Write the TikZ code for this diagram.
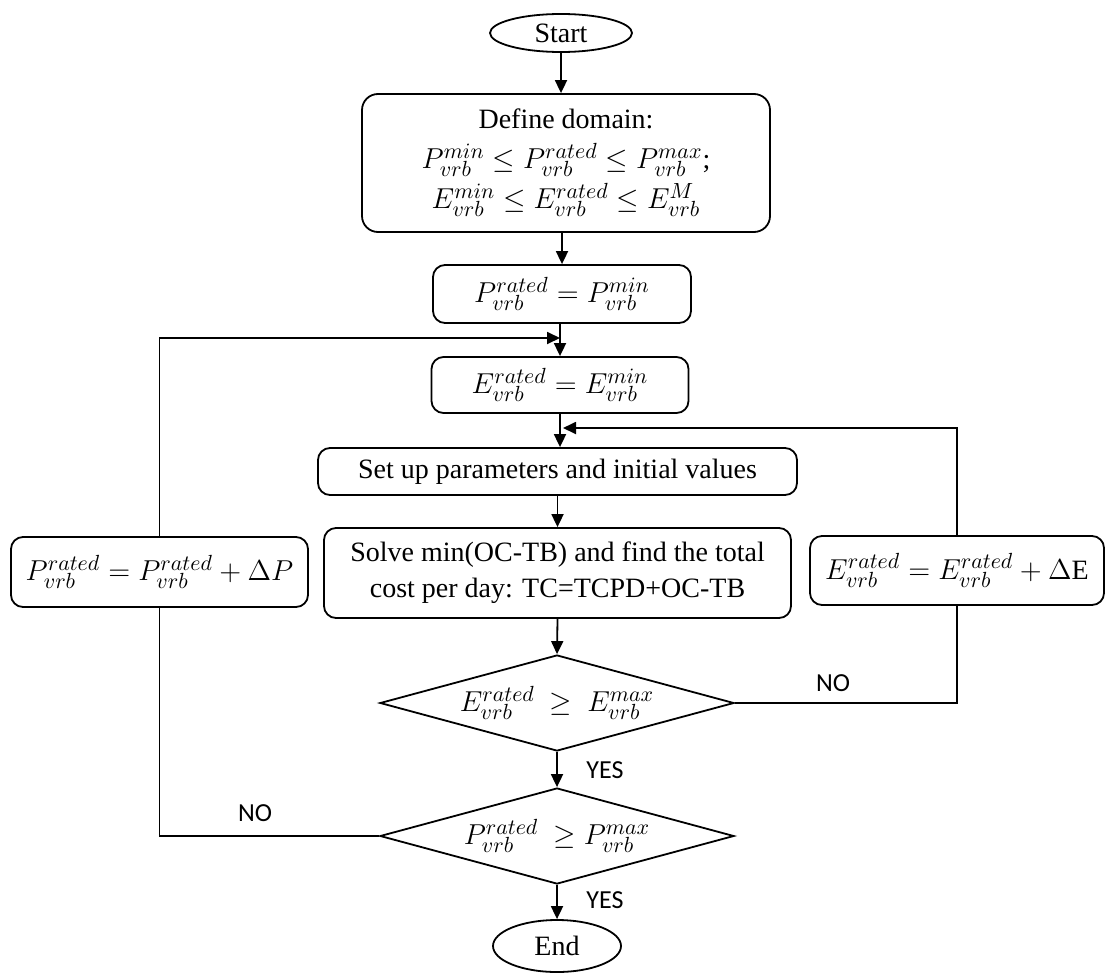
\documentclass[tikz,border=0pt]{standalone}
\usepackage{fontspec}
\setmainfont{Liberation Serif}
\newfontfamily\lblfont{Carlito}
\DeclareMathSizes{14}{14}{11}{8}
\usetikzlibrary{shapes.geometric,arrows.meta}
\begin{document}
\begin{tikzpicture}[x=0.5pt,y=-0.5pt,
  box/.style={draw,rounded corners=6pt,line width=0.9pt,align=center,inner sep=0pt,font=\fontsize{14}{18}\selectfont},
  term/.style={draw,ellipse,line width=0.9pt,inner sep=0pt,font=\fontsize{14}{18}\selectfont},
  dec/.style={draw,diamond,aspect=3.7,inner sep=0pt,line width=0.9pt,minimum width=177pt,minimum height=48pt,font=\fontsize{14}{18}\selectfont},
  arr/.style={line width=0.9pt,-{Triangle[length=6.5pt,width=6pt]}},
  ln/.style={line width=0.9pt},
  lbl/.style={font=\lblfont\fontsize{13}{15}\selectfont,inner sep=0pt}]
\useasboundingbox (0,0) rectangle (1106,974);

\node[term,minimum width=71pt,minimum height=19pt] (start) at (561,33) {Start};
\node[box,rounded corners=8pt,minimum width=204pt,minimum height=69pt,font=\fontsize{14}{20}\selectfont] (def) at (566,163)
  {Define domain:\\ $P_{vrb}^{min}\le P_{vrb}^{rated}\le P_{vrb}^{max}$;\\ $E_{vrb}^{min}\le E_{vrb}^{rated}\le E_{vrb}^{M}$};
\node[box,minimum width=129pt,minimum height=29pt] (pmin) at (562,294) {$P_{vrb}^{rated}=P_{vrb}^{min}$};
\node[box,minimum width=128.5pt,minimum height=28pt] (emin) at (560,385) {$E_{vrb}^{rated}=E_{vrb}^{min}$};
\node[box,minimum width=239.5pt,minimum height=23.5pt] (setup) at (557.5,471.5) {Set up parameters and initial values};
\node[box,minimum width=233.5pt,minimum height=45pt] (solve) at (557.5,573) {Solve min(OC-TB) and find the total\\ cost per day: TC=TCPD+OC-TB};
\node[box,minimum width=148.5pt,minimum height=35pt] (pinc) at (159.5,572) {$P_{vrb}^{rated}=P_{vrb}^{rated}+\Delta P$};
\node[box,minimum width=147pt,minimum height=34.5pt] (einc) at (957,570.5) {$E_{vrb}^{rated}=E_{vrb}^{rated}+\Delta\mathrm{E}$};
\node[dec] (d1) at (557,703) {$E_{vrb}^{rated}\ \ge\ E_{vrb}^{max}$};
\node[dec] (d2) at (557,836) {$P_{vrb}^{rated}\ \ge P_{vrb}^{max}$};
\node[term,minimum width=64pt,minimum height=26pt] (end) at (557,946) {End};

\coordinate (jl) at (560,338);
\coordinate (jr) at (560,428);

\draw[arr] (start.south) -- (start.south |- def.north);
\draw[arr] (pmin.north |- def.south) -- (pmin.north);
\draw[arr] (jl |- pmin.south) -- (jl |- emin.north);
\draw[arr] (jr |- emin.south) -- (jr |- setup.north);
\draw[arr] (setup.south) -- (setup.south |- solve.north);
\draw[arr] (solve.south) -- (d1.north);
\draw[arr] (d1.south) -- (d2.north);
\draw[arr] (d2.south) -- (end.north);

\draw[arr] (pinc.north) |- (jl);
\draw[ln] (d2.west) -| (pinc.south);
\draw[arr] (einc.north) |- ([xshift=1.5pt]jr);
\draw[ln] (d1.east) -| (einc.south);

\node[lbl] (yes1) at (605,770) {YES};
\node[lbl] (yes2) at (605,900) {YES};
\node[lbl] (no1) at (255,813) {NO};
\node[lbl] (no2) at (833,683) {NO};
\end{tikzpicture}
\end{document}
